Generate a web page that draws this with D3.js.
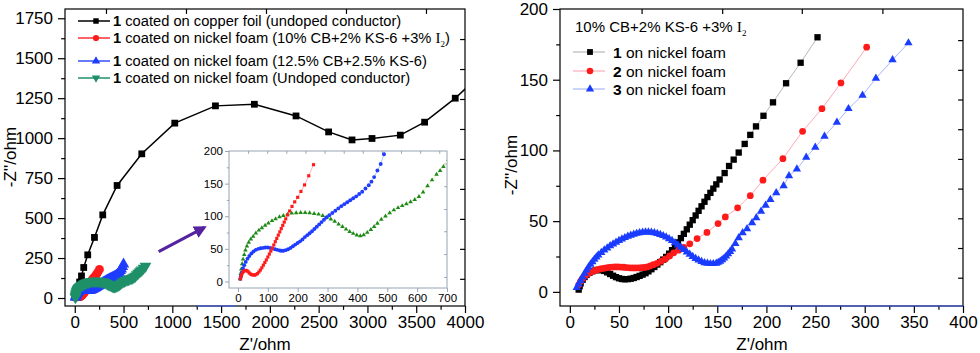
<!DOCTYPE html>
<html><head><meta charset="utf-8">
<script src="https://cdn.jsdelivr.net/npm/d3@7"></script>
<style>body{margin:0;background:#fff}svg{display:block;font-family:"Liberation Sans",Arial,sans-serif}</style>
</head><body><svg id="c" width="980" height="353"></svg>
<script>
// ---------- DATA ----------
// Left panel: Nyquist plots (Z', -Z'') in ohm
const copperFoil = [[3,8],[12,35],[30,65],[50,100],[69,138],[92,191],[133,270],[202,379],[287,520],[434,704],[687,902],[1025,1094],[1442,1202],[1841,1212],[2268,1139],[2602,1039],[2842,989],[3047,998],[3337,1019],[3586,1100],[3900,1250],[4200,1420]];
const niFoamI2 = [[8,4],[10,7],[12,10],[15,13],[18,15],[22,16.5],[26,17],[30,16.5],[34,15],[38,13],[42,11.5],[46,10.5],[50,10],[55,9.8],[60,10.5],[65,12],[70,14.5],[75,17.5],[80,21],[85,25],[90,29],[95,33],[100,37.5],[105,42],[110,46.5],[115,51],[120,56],[125,61],[130,66],[135,71],[140,76],[145,81],[150,86],[155,91],[160,96],[166,102],[173,108],[181,115],[190,122],[200,129],[211,138],[223,148],[237,162],[253,179]];
const niFoamKS6 = [[8,4],[10,8],[13,14],[17,20],[21,25],[26,30],[32,35],[38,39],[45,43],[52,46],[60,48.5],[68,50],[76,51],[84,51.5],[92,52],[100,52],[108,51.5],[116,50.5],[124,49.5],[132,48.5],[140,47.5],[146,47],[152,47],[160,48],[168,49.5],[176,51.5],[184,54],[192,56.5],[200,59],[208,61.5],[216,64.5],[224,68],[232,71],[240,74],[248,77],[256,80.5],[264,84],[272,87.5],[280,91],[288,94.5],[296,98],[306,101.5],[316,105],[326,108.5],[336,112],[346,115.5],[356,118.5],[366,121.5],[376,124.5],[386,127.5],[396,130.5],[406,134],[416,137.5],[427,142.5],[438,147.5],[447,153],[456,160],[467,170],[478,180],[489,195],[500,212]];
const niFoamUndoped = [[7,4],[9,12],[11,19],[14,27],[17,34],[21,41],[25,48],[30,54],[36,60],[43,65],[51,69],[60,74],[70,78.5],[80,82],[91,86],[102,89.5],[114,93],[126,96],[139,99],[152,101],[166,103],[180,104.5],[195,105],[210,105.5],[225,105.5],[240,105],[255,104],[270,103],[284,101],[298,98.5],[311,95.5],[324,92],[337,88],[350,84],[362,80],[374,76.5],[386,73.5],[398,71],[410,70],[421,71.5],[433,75],[445,79.5],[456,84],[467,89],[480,95],[494,100],[508,105],[522,109.5],[536,113],[550,116],[564,119],[578,122],[592,125.5],[606,130],[620,137],[635,146.5],[650,155.5],[665,164],[677,170],[688,176],[705,187],[725,199]];

// Right panel: compounds 1-3 on nickel foam
const comp1 = [[9,1.6],[10,4],[11,6],[13,8.5],[15,10.5],[17,12],[20,13.5],[23,14.5],[26,15.2],[29,15.5],[32,15.3],[35,14.8],[38,13.8],[41,12.6],[44,11.4],[47,10.4],[50,9.6],[53,9.1],[56,8.9],[59,9],[62,9.3],[65,9.8],[68,10.5],[71,11.3],[74,12.2],[77,13.2],[80,14.5],[83,16],[86,17.6],[89,19.3],[92,21],[95,22.8],[98,24.7],[101,27],[104,29.5],[107,32.3],[110,35],[113,38],[116,41],[119,44.2],[122,47.5],[125,50.7],[128,54],[131,57.3],[134,60.5],[137,63.7],[140,67],[143,70],[146,73],[149,76],[152.4,79.4],[157.5,84],[162,89],[166.7,93.5],[171.8,98.5],[177.9,104.6],[183.6,111],[189.4,117],[197,124.5],[206.7,134],[220,147.5],[234.8,162],[252,180]];
const comp2 = [[9,5],[11,7.5],[13,9.5],[16,11.5],[19,13],[22,14.2],[25,15],[28,15.7],[31,16.2],[34,16.6],[37,17],[40,17.3],[43,17.5],[46,17.6],[49,17.6],[52,17.5],[55,17.4],[58,17.2],[61,17],[64,16.9],[67,16.9],[70,17],[73,17.1],[76,17.3],[79,17.6],[82,18.4],[85,19.2],[88.8,20.2],[93,21.7],[97.3,23.3],[101.5,25.4],[105.7,27.6],[110.8,29.5],[115.9,31.5],[122,34],[129.5,37.7],[139.5,42],[150.8,48.3],[158.2,53],[170.7,59.4],[183.6,68],[196.5,79],[216.8,94.2],[236.8,113.5],[256.5,129.5],[275.8,147.7],[302,173]];
const comp3 = [[7,3],[9,5.5],[11,8],[13,10.5],[15,13],[17,15.3],[19,17.5],[21,19.5],[23,21.3],[25,23],[27,24.6],[29,26],[32,27.8],[35,29.5],[38,31],[41,32.5],[44,33.8],[47,35],[50,36.2],[53,37.3],[56,38.3],[59,39.2],[62,40],[65,40.7],[68,41.3],[71,41.8],[74,42.1],[77,42.3],[80,42.3],[83,42.1],[86,41.7],[89,41.2],[92,40.5],[95,39.7],[98,38.7],[101,37.5],[104,36.2],[107,34.7],[110,33.1],[113,31.5],[116,29.8],[119,28.1],[122,26.5],[125,25],[128,23.6],[131,22.4],[134,21.4],[137,20.6],[140,20.1],[143,19.9],[146,19.9],[149,20.2],[151,20.8],[153,21.6],[155,22.6],[157,23.8],[159,25.2],[161,26.8],[163,28.5],[165,30.2],[168.4,34.1],[171.8,38.2],[175.8,41.7],[180.3,44.5],[185.4,48.8],[189.7,52.3],[194.5,57],[199.2,61.2],[204,65.2],[210,70],[217.5,75],[223,82],[231,86.8],[240.5,95.1],[249.7,102.2],[259.1,110],[271.7,119.9],[283.5,129.5],[297.8,139],[311.4,151],[328.3,164],[344.5,176]];

// Tick values
const leftXTicks = [0,500,1000,1500,2000,2500,3000,3500,4000];
const leftXMinor = d3.range(250,4000,500);
const leftYTicks = [0,250,500,750,1000,1250,1500,1750];
const leftYMinor = d3.range(125,1800,250);
const leftTopMirror = [320,1140,1960,2780,3600];
const leftRightMirror = d3.range(0,9).map(k=>120+187.5*k);
const insetXTicks = [0,100,200,300,400,500,600,700];
const insetYTicks = [0,50,100,150,200];
const insetYMinor = [25,75,125,175];
const insetTopMirror = [34,98,162,226,290,354,418,482,546,610,674];
const insetRightMirror = [7,42,77,111,146,181];
const rightXTicks = [0,50,100,150,200,250,300,350,400];
const rightXMinor = d3.range(25,400,50);
const rightYTicks = [0,50,100,150,200];
const rightYMinor = [25,75,125,175];
const rightTopMirror = [73,155,236,318];
const rightRightMirror = [10,31,52,73,94,115,136,157,178];

// ---------- DRAWING ----------
const svg = d3.select('#c');
const FONT = 17;

function frame(g, x, y, opt){
  const [x0,x1] = x.range(), [y0,y1] = y.range();
  const col = opt.axisColor || '#000';
  g.append('rect').attr('x',x0).attr('y',y1).attr('width',x1-x0).attr('height',y0-y1)
    .attr('fill', opt.fill||'none').attr('stroke',col).attr('stroke-width',opt.sw||1.2);
  const fs = opt.fs || FONT;
  g.append('g').attr('transform',`translate(0,${y0})`)
    .call(d3.axisBottom(x).tickValues(opt.xt).tickSize(opt.tl).tickPadding(opt.tpx!=null?opt.tpx:opt.tp).tickFormat(d3.format('d')));
  if(opt.xm) g.append('g').attr('transform',`translate(0,${y0})`).call(d3.axisBottom(x).tickValues(opt.xm).tickSize(opt.tl*0.55).tickFormat(''));
  g.append('g').attr('transform',`translate(${x0},0)`)
    .call(d3.axisLeft(y).tickValues(opt.yt).tickSize(opt.tl).tickPadding(opt.tp).tickFormat(d3.format('d')));
  if(opt.ym) g.append('g').attr('transform',`translate(${x0},0)`).call(d3.axisLeft(y).tickValues(opt.ym).tickSize(opt.tl*0.55).tickFormat(''));
  if(opt.top) g.append('g').attr('transform',`translate(0,${y1})`).call(d3.axisBottom(x).tickValues(opt.top).tickSize(opt.tl*0.7).tickFormat(''));
  if(opt.right) g.append('g').attr('transform',`translate(${x1},0)`).call(d3.axisLeft(y).tickValues(opt.right).tickSize(opt.tl*0.7).tickFormat(''));
  g.selectAll('.domain').remove();
  g.selectAll('.tick line').attr('stroke',col).attr('stroke-width',opt.sw||1.2);
  g.selectAll('.tick text').attr('font-size',fs).attr('fill','#000').attr('font-family','"Liberation Sans",Arial,sans-serif');
}

function series(g, data, x, y, o){
  if(o.line) g.append('path').datum(data).attr('fill','none').attr('stroke',o.line).attr('stroke-width',o.lw||1)
    .attr('d', d3.line().x(d=>x(d[0])).y(d=>y(d[1])));
  const sym = d3.symbol().type(o.type).size(o.size);
  g.selectAll(null).data(data).enter().append('path').attr('d',sym)
    .attr('transform',d=>`translate(${x(d[0])},${y(d[1])})${o.rot?' rotate(180)':''}`)
    .attr('fill',o.color);
}

function clip(id, x, y){
  svg.append('clipPath').attr('id',id).append('rect')
    .attr('x',x.range()[0]).attr('y',y.range()[1])
    .attr('width',x.range()[1]-x.range()[0]).attr('height',y.range()[0]-y.range()[1]);
}

// ===== Left panel =====
const xL = d3.scaleLinear().domain([-100,4000]).range([65,465]);
const yL = d3.scaleLinear().domain([-50,1808]).range([306,9]);
clip('cl', xL, yL);
const gL = svg.append('g');
frame(gL, xL, yL, {xt:leftXTicks, xm:leftXMinor, yt:leftYTicks, ym:leftYMinor, top:leftTopMirror, right:leftRightMirror, tl:7, tp:5, tpx:3});
gL.append('line').attr('x1',xL(1250)).attr('x2',xL(1650)).attr('y1',yL(-50)).attr('y2',yL(-50)).attr('stroke','#3a5cff').attr('stroke-width',1.2);

const dL = gL.append('g').attr('clip-path','url(#cl)');
series(dL, copperFoil, xL, yL, {line:'#000', lw:1.5, type:d3.symbolSquare, size:46, color:'#000'});
series(dL, niFoamI2, xL, yL, {line:'#ff2020', lw:1.2, type:d3.symbolCircle, size:62, color:'#ff1a1a'});
series(dL, niFoamKS6, xL, yL, {line:'#2040ff', lw:1.2, type:d3.symbolTriangle, size:56, color:'#1f3dff'});
series(dL, niFoamUndoped, xL, yL, {line:'#1f9068', lw:1.2, type:d3.symbolTriangle, size:60, color:'#1f9068', rot:true});

// arrow
const defs = svg.append('defs');
defs.append('marker').attr('id','ah').attr('viewBox','0 0 10 10').attr('refX',8).attr('refY',5)
  .attr('markerWidth',4.2).attr('markerHeight',4.2).attr('orient','auto')
  .append('path').attr('d','M0,0 L10,5 L0,10 z').attr('fill','#5522a0');
gL.append('line').attr('x1',xL(860)).attr('y1',yL(290)).attr('x2',xL(1330)).attr('y2',yL(442))
  .attr('stroke','#5522a0').attr('stroke-width',3).attr('marker-end','url(#ah)');

// legend left
const legL = [
  {t:' coated on copper foil (undoped conductor)', c:'#000', lc:'#000', type:d3.symbolSquare, size:30, y:21},
  {t:' coated on nickel foam (10% CB+2% KS-6 +3% ', c:'#ff1a1a', lc:'#ff3030', type:d3.symbolCircle, size:30, y:38, sub:true},
  {t:' coated on nickel foam (12.5% CB+2.5% KS-6)', c:'#1f3dff', lc:'#3050ff', type:d3.symbolTriangle, size:30, y:61},
  {t:' coated on nickel foam (Undoped conductor)', c:'#1f9068', lc:'#1f9068', type:d3.symbolTriangle, size:30, y:78, rot:true}
];
legL.forEach(l=>{
  gL.append('line').attr('x1',78).attr('x2',110).attr('y1',l.y).attr('y2',l.y).attr('stroke',l.lc).attr('stroke-width',1.5);
  gL.append('path').attr('d',d3.symbol().type(l.type).size(l.size)()).attr('fill',l.c)
    .attr('transform',`translate(96,${l.y})${l.rot?' rotate(180)':''}`);
  const t = gL.append('text').attr('x',113).attr('y',l.y+5).attr('font-size',14.7).attr('fill','#000');
  t.append('tspan').attr('font-weight','bold').text('1');
  t.append('tspan').text(l.t);
  if(l.sub){
    t.append('tspan').attr('font-family','"Liberation Serif","Times New Roman",serif').attr('font-size',15).text('I');
    t.append('tspan').attr('font-family','"Liberation Serif",serif').attr('font-size',9).attr('dy',4).text('2');
    t.append('tspan').attr('dy',-4).text(')');
  }
});

gL.append('text').attr('x',265).attr('y',350).attr('text-anchor','middle').attr('font-size',FONT).text("Z'/ohm");
gL.append('text').attr('transform','translate(16,157) rotate(-90)').attr('text-anchor','middle').attr('font-size',FONT).text("-Z''/ohm");

// ===== Inset =====
const xI = d3.scaleLinear().domain([-30,700]).range([229,447]);
const yI = d3.scaleLinear().domain([-10,200]).range([288,151]);
clip('ci', xI, yI);
const gI = svg.append('g');
frame(gI, xI, yI, {xt:insetXTicks, yt:insetYTicks, ym:insetYMinor, top:insetTopMirror, right:insetRightMirror, tl:4, tp:2, fs:11.5, axisColor:'#98a4b8', sw:1, fill:'#fff'});
const dI = gI.append('g').attr('clip-path','url(#ci)');
series(dI, niFoamUndoped, xI, yI, {line:'#e8f0a0', lw:1, type:d3.symbolTriangle, size:9, color:'#1e8a1e'});
series(dI, niFoamKS6, xI, yI, {line:'#a8c8ff', lw:1, type:d3.symbolCircle, size:12, color:'#1f3dff'});
series(dI, niFoamI2, xI, yI, {line:'#ffb0c0', lw:1, type:d3.symbolSquare, size:10, color:'#ff1a1a'});

// ===== Right panel =====
const xR = d3.scaleLinear().domain([-10,400]).range([560,963]);
const yR = d3.scaleLinear().domain([-10,200]).range([306,9]);
clip('cr', xR, yR);
const gR = svg.append('g');
frame(gR, xR, yR, {xt:rightXTicks, xm:rightXMinor, yt:rightYTicks, ym:rightYMinor, top:rightTopMirror, right:rightRightMirror, tl:7, tp:5, tpx:3});
gR.append('line').attr('x1',xR(150)).attr('x2',xR(400)).attr('y1',yR(-10)).attr('y2',yR(-10)).attr('stroke','#3a5cff').attr('stroke-width',1.2);
const dR = gR.append('g').attr('clip-path','url(#cr)');
series(dR, comp1, xR, yR, {line:'#b8b8b8', lw:1, type:d3.symbolSquare, size:40, color:'#000'});
series(dR, comp2, xR, yR, {line:'#ffa8b8', lw:1, type:d3.symbolCircle, size:36, color:'#ff1a1a'});
series(dR, comp3, xR, yR, {line:'#a8b8ff', lw:1, type:d3.symbolTriangle, size:30, color:'#1a3cff'});

// legend right
const hdr = gR.append('text').attr('x',575).attr('y',32).attr('font-size',15).attr('fill','#000');
hdr.append('tspan').text('10% CB+2% KS-6 +3% ');
hdr.append('tspan').attr('font-family','"Liberation Serif","Times New Roman",serif').attr('font-size',15.5).text('I');
hdr.append('tspan').attr('font-family','"Liberation Serif",serif').attr('font-size',9).attr('dy',4).text('2');
const legR = [
  {n:'1', c:'#000', lc:'#b8b8b8', type:d3.symbolSquare, size:34, y:52},
  {n:'2', c:'#ff1a1a', lc:'#ffa8b8', type:d3.symbolCircle, size:34, y:71},
  {n:'3', c:'#1a3cff', lc:'#a8b8ff', type:d3.symbolTriangle, size:30, y:89}
];
legR.forEach(l=>{
  gR.append('line').attr('x1',573).attr('x2',605).attr('y1',l.y).attr('y2',l.y).attr('stroke',l.lc).attr('stroke-width',1.2);
  gR.append('path').attr('d',d3.symbol().type(l.type).size(l.size)()).attr('fill',l.c).attr('transform',`translate(590,${l.y})`);
  const t = gR.append('text').attr('x',613).attr('y',l.y+5.5).attr('font-size',15.5).attr('fill','#000');
  t.append('tspan').attr('font-weight','bold').text(l.n);
  t.append('tspan').text(' on nickel foam');
});
gR.append('text').attr('x',762).attr('y',350).attr('text-anchor','middle').attr('font-size',FONT).text("Z'/ohm");
gR.append('text').attr('transform','translate(517,165) rotate(-90)').attr('text-anchor','middle').attr('font-size',FONT).text("-Z''/ohm");
</script></body></html>
